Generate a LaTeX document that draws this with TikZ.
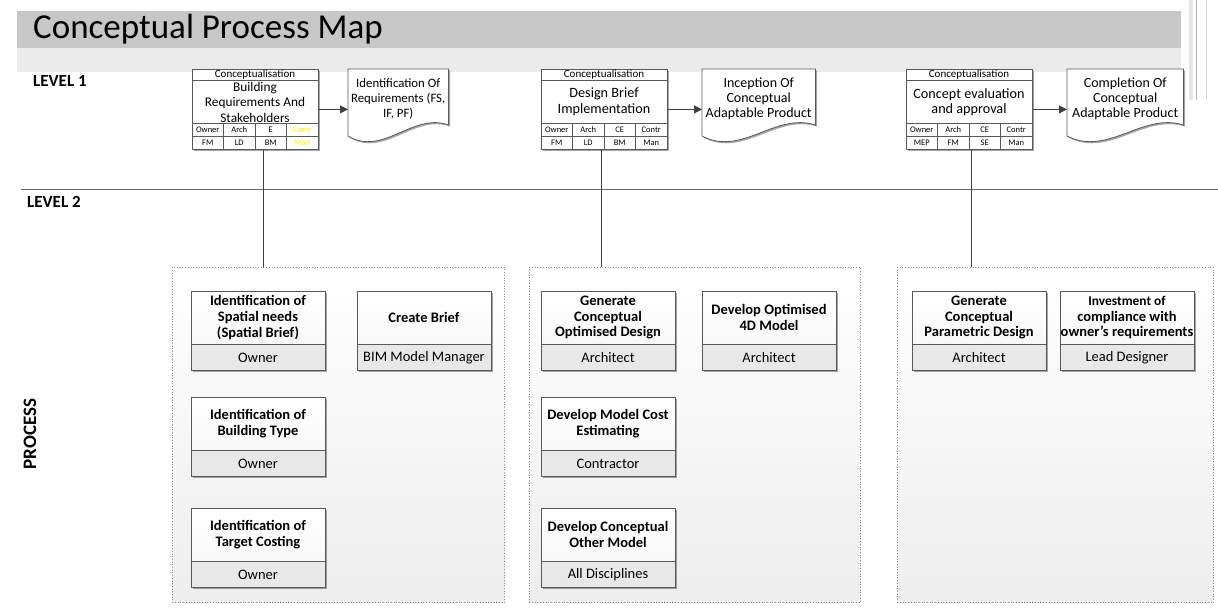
\documentclass[tikz,border=0pt]{standalone}
\usepackage{fontspec}
\setmainfont{Carlito}
\usetikzlibrary{shadows,calc,arrows.meta}
\newcommand\fsz[2]{\fontsize{#1}{#2}\selectfont}
\tikzset{
 lline/.style={draw=black!65, line width=0.7pt},
 shad/.style={drop shadow={shadow xshift=1.6pt, shadow yshift=-1.6pt, fill=black, opacity=0.35}},
 lbox/.style={draw=black!65, line width=0.8pt, fill=white, shad, inner sep=0pt},
 lrole/.style={font=\fsz{8.5}{9}, inner sep=0pt},
 pbox/.style={draw=black!65, line width=0.9pt, top color=white, bottom color=black!4, shad, inner sep=0pt},
 ptitle/.style={font=\bfseries\fsz{14.5}{15.8}, align=center},
 prole/.style={font=\fsz{14.5}{16}},
 panel/.style={draw=black!45, dotted, line width=0.7pt, top color=white, bottom color=black!7, inner sep=0pt},
 doctext/.style={font=\fsz{14}{15}, align=center, inner sep=0pt},
 docshape/.style={draw=black!65, line width=0.8pt, fill=white, shad},
 conn/.style={draw=black!75, line width=1pt},
 arr/.style={conn, -{Triangle[length=8pt,width=8pt]}},
 lvl/.style={font=\bfseries\fsz{17}{19}, inner sep=0pt},
}
\newcommand\LBox[4]{% name, x0, main text, font size
 \node[lbox, anchor=north west, minimum width=126pt, minimum height=80pt] (#1) at (#2,69) {};
 \draw[lline] (#2,80) -- ++(126,0) (#2,123) -- ++(126,0) (#2,136) -- ++(126,0);
 \foreach \k in {1,2,3} \draw[lline] (#2+31.5*\k,123) -- (#2+31.5*\k,149);
 \node[font=\fsz{11}{12}, inner sep=0pt] at (#2+63,74.5) {Conceptualisation};
 \node[align=center, font=\fsz{#4}{15.5}, inner sep=0pt] at (#2+63,102) {#3};
}
\newcommand\LRoles[9]{%
 \node[lrole] at (#1+15.75,129.5) {#2};
 \node[lrole] at (#1+47.25,129.5) {#3};
 \node[lrole] at (#1+78.75,129.5) {#4};
 \node[lrole] at (#1+110.25,129.5) {#5};
 \node[lrole] at (#1+15.75,142.5) {#6};
 \node[lrole] at (#1+47.25,142.5) {#7};
 \node[lrole] at (#1+78.75,142.5) {#8};
 \node[lrole] at (#1+110.25,142.5) {#9};
}
\newcommand\Doc[5]{% name, x0, width, text, font size
 \node[doctext, font=\fsz{#5}{15}, anchor=north west, minimum width=#3pt, minimum height=60pt] (#1) at (#2,69) {#4};
 \draw[docshape] (#1.north west) -- (#1.north east) -- ($(#1.north east)+(0,56)$)
   .. controls ($(#1.north west)+(0.65*#3,43)$) and ($(#1.north west)+(0.35*#3,88)$) ..
   ($(#1.north west)+(0,67)$) -- cycle;
 \node[doctext, font=\fsz{#5}{15}] at (#1.center) {#4};
}
\newcommand\PBox[5]{% name, x0, y0, title, role
 \node[pbox, anchor=north west, minimum width=134pt, minimum height=79pt] (#1) at (#2,#3) {};
 \fill[black!9] (#2,#3+53) rectangle (#2+134,#3+79);
 \draw[lline] (#2,#3+53) -- ++(134,0);
 \draw[draw=black!65, line width=0.9pt] (#1.north west) rectangle (#1.south east);
 \node[ptitle] at (#2+67,#3+26.5) {#4};
 \node[prole] at (#2+67,#3+66.5) {#5};
}
\begin{document}
\begin{tikzpicture}[x=1pt,y=-1pt]
\useasboundingbox (0,0) rectangle (1218,610);
% title band
\fill[black!22] (17,11) rectangle (1181,48);
\fill[black!8] (17,48) rectangle (1181,72);
\fill[black!10] (1189,0) rectangle (1193,100);
\draw[black!30, line width=0.8pt] (1196,0) -- (1196,100);
\draw[black!15, line width=0.8pt] (1206,0) -- (1206,100);
\node[anchor=base west, font=\fsz{35}{40}, inner sep=0pt] (title) at (33,39) {Conceptual Process Map};
% levels
\node[lvl, anchor=base west] (lv1) at (33,86) {LEVEL 1};
\node[lvl, anchor=base west] (lv2) at (27,207) {LEVEL 2};
\node[lvl, font=\bfseries\fsz{19}{21}, rotate=90] (proc) at (30,434) {PROCESS};
\coordinate (hl0) at (21,189);
\coordinate (hl1) at (1218,189);
\draw[draw=black!60, line width=1pt] (hl0) -- (hl1);
% panels
\node[panel, anchor=north west, minimum width=332pt, minimum height=335pt] (P1) at (172,267) {};
\node[panel, anchor=north west, minimum width=331pt, minimum height=335pt] (P2) at (529,267) {};
\node[panel, anchor=north west, minimum width=316pt, minimum height=335pt] (P3) at (897,267) {};
% level 1 boxes
\LBox{b1}{192}{Building\\Requirements And\\Stakeholders}{13.3}
\LRoles{192}{Owner}{Arch}{E}{\textcolor{yellow}{Contr}}{FM}{LD}{BM}{\textcolor{yellow}{Man}}
\LBox{b2}{541}{Design Brief\\Implementation}{14.2}
\LRoles{541}{Owner}{Arch}{CE}{Contr}{FM}{LD}{BM}{Man}
\LBox{b3}{906}{Concept evaluation\\and approval}{14.2}
\LRoles{906}{Owner}{Arch}{CE}{Contr}{MEP}{FM}{SE}{Man}
% documents
\Doc{d1}{348}{100}{Identification Of\\Requirements (FS,\\IF, PF)}{12.8}
\Doc{d2}{702}{113}{Inception Of\\Conceptual\\Adaptable Product}{14}
\Doc{d3}{1067}{116}{Completion Of\\Conceptual\\Adaptable Product}{14}
\draw[arr] (b1.east) -- (d1.west |- b1.east);
\draw[arr] (b2.east) -- (d2.west |- b2.east);
\draw[arr] (b3.east) -- (d3.west |- b3.east);
% connectors
\coordinate (c1) at (263,267);
\coordinate (c2) at (601,267);
\coordinate (c3) at (971,267);
\draw[conn] (b1.south -| c1) -- (c1);
\draw[conn] (b2.south -| c2) -- (c2);
\draw[conn] (b3.south -| c3) -- (c3);
% process boxes
\PBox{pa}{191}{291}{Identification of\\Spatial needs\\(Spatial Brief)}{Owner}
\PBox{pb}{357}{291}{Create Brief}{BIM Model Manager}
\PBox{pc}{191}{397}{Identification of\\Building Type}{Owner}
\PBox{pd}{191}{508}{Identification of\\Target Costing}{Owner}
\PBox{pe}{541}{291}{Generate\\Conceptual\\Optimised Design}{Architect}
\PBox{pf}{702}{291}{Develop Optimised\\4D Model}{Architect}
\PBox{pg}{541}{397}{Develop Model Cost\\Estimating}{Contractor}
\PBox{ph}{541}{508}{Develop Conceptual\\Other Model}{All Disciplines}
\PBox{pi}{912}{291}{Generate\\Conceptual\\Parametric Design}{Architect}
\PBox{pj}{1060}{291}{\fsz{13.4}{15.8}Investment of\\compliance with\\owner's requirements}{Lead Designer}
\end{tikzpicture}
\end{document}
